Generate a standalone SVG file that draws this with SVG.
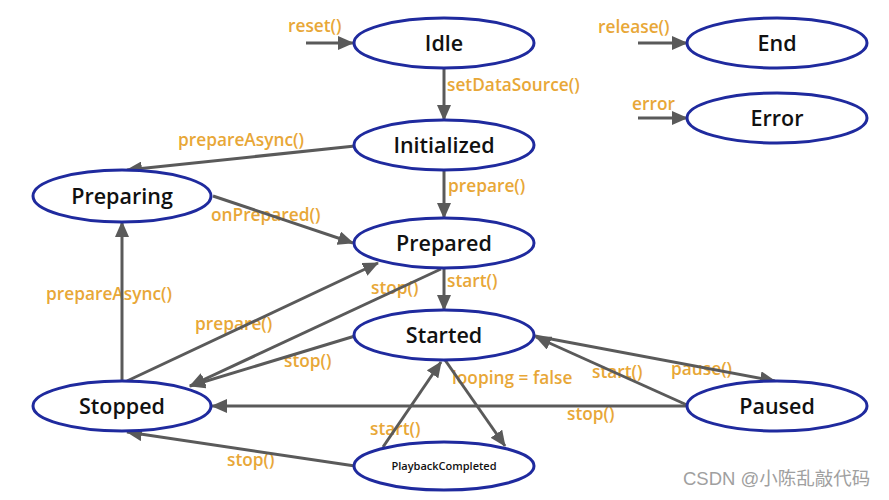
<svg xmlns="http://www.w3.org/2000/svg" width="889" height="500" viewBox="0 0 889 500">
<style>
.node ellipse{fill:#fff;stroke:#1f2a9e;stroke-width:3}
.node text{font-family:"Open Sans","Liberation Sans",sans-serif;font-weight:600;font-size:21.5px;fill:#111;text-anchor:middle}
.lbl{font-family:"Open Sans","Liberation Sans",sans-serif;font-weight:600;font-size:17.3px;fill:#e8a737}
.edge{stroke:#5a5a5a;stroke-width:3;fill:none;marker-end:url(#ah)}
.wm{font-family:"Liberation Sans","Noto Sans CJK SC",sans-serif;font-size:18.5px;fill:#a0a0a0}
</style>
<defs>
<marker id="ah" markerUnits="userSpaceOnUse" markerWidth="16" markerHeight="14" refX="15" refY="7" orient="auto">
<path d="M0,0 L16,7 L0,14 Z" fill="#5a5a5a"/>
</marker>
</defs>
<rect width="889" height="500" fill="#fff"/>
<g id="labels">
<text class="lbl" x="288" y="32">reset()</text>
<text class="lbl" x="447" y="91">setDataSource()</text>
<text class="lbl" x="598" y="33">release()</text>
<text class="lbl" x="632" y="110">error</text>
<text class="lbl" x="178" y="146">prepareAsync()</text>
<text class="lbl" x="448" y="192">prepare()</text>
<text class="lbl" x="211" y="221">onPrepared()</text>
<text class="lbl" x="46" y="300">prepareAsync()</text>
<text class="lbl" x="195" y="330">prepare()</text>
<text class="lbl" x="371" y="294">stop()</text>
<text class="lbl" x="447" y="287">start()</text>
<text class="lbl" x="284" y="367">stop()</text>
<text class="lbl" x="452" y="384">looping = false</text>
<text class="lbl" x="592" y="378">start()</text>
<text class="lbl" x="671" y="375">pause()</text>
<text class="lbl" x="567" y="420">stop()</text>
<text class="lbl" x="370" y="435">start()</text>
<text class="lbl" x="227" y="466">stop()</text>
</g>
<g id="connectors">
<line class="edge" x1="306" y1="43" x2="353" y2="43"/>
<line class="edge" x1="638" y1="43" x2="687" y2="43"/>
<line class="edge" x1="638" y1="118" x2="687" y2="118"/>
<line class="edge" x1="444" y1="68" x2="444" y2="120"/>
<line class="edge" x1="355" y1="146" x2="127" y2="170"/>
<line class="edge" x1="444" y1="170" x2="444" y2="218"/>
<line class="edge" x1="213" y1="196" x2="353" y2="243"/>
<line class="edge" x1="122" y1="381" x2="122" y2="222"/>
<line class="edge" x1="127" y1="381" x2="378" y2="263"/>
<line class="edge" x1="441" y1="269" x2="190" y2="386"/>
<line class="edge" x1="355" y1="336" x2="190" y2="386"/>
<line class="edge" x1="444" y1="268" x2="444" y2="310"/>
<line class="edge" x1="445" y1="360" x2="505" y2="446"/>
<line class="edge" x1="383" y1="447" x2="441" y2="362"/>
<line class="edge" x1="355" y1="466" x2="127" y2="432"/>
<line class="edge" x1="687" y1="406" x2="212" y2="406"/>
<line class="edge" x1="535" y1="336" x2="775" y2="381"/>
<line class="edge" x1="687" y1="405" x2="536" y2="337"/>
</g>
<g id="idle" class="node"><ellipse cx="444" cy="43" rx="90" ry="25"/><text x="444" y="51">Idle</text></g>
<g id="end" class="node"><ellipse cx="777" cy="43" rx="90" ry="25"/><text x="777" y="51">End</text></g>
<g id="error" class="node"><ellipse cx="777" cy="118" rx="90" ry="25"/><text x="777" y="126">Error</text></g>
<g id="initialized" class="node"><ellipse cx="444" cy="145" rx="90" ry="25"/><text x="444" y="153">Initialized</text></g>
<g id="preparing" class="node"><ellipse cx="122" cy="196" rx="89" ry="26"/><text x="122" y="204">Preparing</text></g>
<g id="prepared" class="node"><ellipse cx="444" cy="243" rx="90" ry="25"/><text x="444" y="251">Prepared</text></g>
<g id="started" class="node"><ellipse cx="444" cy="335" rx="90" ry="25"/><text x="444" y="343">Started</text></g>
<g id="stopped" class="node"><ellipse cx="122" cy="406" rx="89" ry="25"/><text x="122" y="414">Stopped</text></g>
<g id="paused" class="node"><ellipse cx="777" cy="406" rx="90" ry="25"/><text x="777" y="414">Paused</text></g>
<g id="playbackcompleted" class="node"><ellipse cx="444" cy="466" rx="90" ry="24"/><text x="444" y="470" style="font-size:11px">PlaybackCompleted</text></g>
<text class="wm" x="683" y="485">CSDN @小陈乱敲代码</text>
</svg>
